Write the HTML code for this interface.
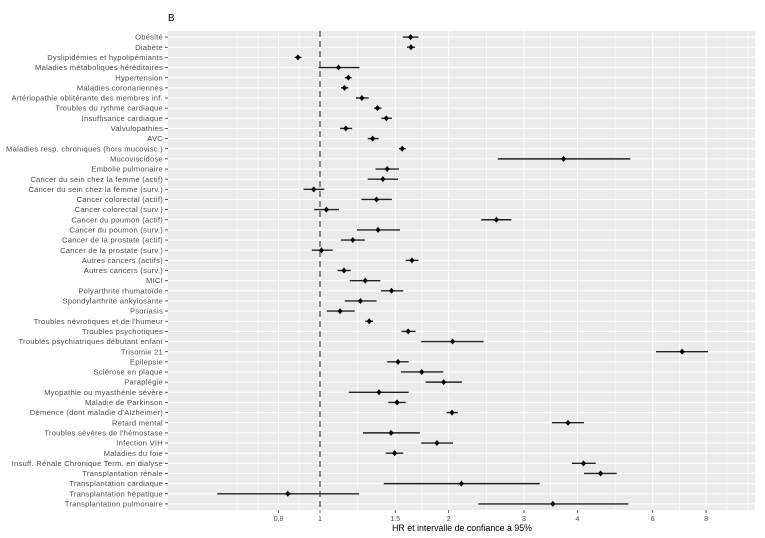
<!DOCTYPE html>
<html><head><meta charset="utf-8"><style>
body{margin:0;background:#fff;}
svg{display:block;font-family:"Liberation Sans",sans-serif;}
</style></head><body>
<svg id="chart" width="765" height="538" viewBox="0 0 765 538" xmlns="http://www.w3.org/2000/svg">
<text x="168" y="21" font-size="10" fill="#000">B</text>
<rect x="168" y="31" width="587" height="479" fill="#EBEBEB"/>
<g id="grid"></g><g id="marks"></g><g id="axes"></g>
<text x="462" y="531" font-size="8.8" fill="#000" text-anchor="middle">HR et intervalle de confiance à 95%</text>
</svg>
<script>
const categories = ["Obésité","Diabète","Dyslipidémies et hypolipémiants","Maladies métaboliques héréditaires","Hypertension","Maladies coronariennes","Artériopathie oblitérante des membres inf.","Troubles du rythme cardiaque","Insuffisance cardiaque","Valvulopathies","AVC","Maladies resp. chroniques (hors mucovisc.)","Mucoviscidose","Embolie pulmonaire","Cancer du sein chez la femme (actif)","Cancer du sein chez la femme (surv.)","Cancer colorectal (actif)","Cancer colorectal (surv.)","Cancer du poumon (actif)","Cancer du poumon (surv.)","Cancer de la prostate (actif)","Cancer de la prostate (surv.)","Autres cancers (actifs)","Autres cancers (surv.)","MICI","Polyarthrite rhumatoïde","Spondylarthrite ankylosante","Psoriasis","Troubles névrotiques et de l'humeur","Troubles psychotiques","Troubles psychiatriques débutant enfant","Trisomie 21","Epilepsie","Sclérose en plaque","Paraplégie","Myopathie ou myasthénie sévère","Maladie de Parkinson","Démence (dont maladie d'Alzheimer)","Retard mental","Troubles sévères de l'hémostase","Infection VIH","Maladies du foie","Insuff. Rénale Chronique Term. en dialyse","Transplantation rénale","Transplantation cardiaque","Transplantation hépatique","Transplantation pulmonaire"];
const hr = [1.629,1.632,0.888,1.105,1.165,1.141,1.253,1.363,1.429,1.149,1.328,1.557,3.714,1.436,1.403,0.967,1.356,1.035,2.585,1.367,1.193,1.008,1.641,1.138,1.276,1.470,1.243,1.114,1.303,1.608,2.042,7.03,1.522,1.730,1.947,1.374,1.514,2.036,3.803,1.466,1.877,1.495,4.133,4.532,2.141,0.841,3.504];
const lower = [1.562,1.598,0.872,0.992,1.143,1.120,1.214,1.338,1.392,1.114,1.293,1.530,2.605,1.348,1.293,0.915,1.250,0.969,2.383,1.220,1.120,0.957,1.587,1.100,1.174,1.388,1.143,1.037,1.276,1.550,1.725,6.11,1.436,1.546,1.767,1.168,1.444,1.978,3.487,1.260,1.725,1.425,3.882,4.144,1.410,0.575,2.346];
const upper = [1.699,1.668,0.905,1.237,1.186,1.165,1.300,1.392,1.473,1.189,1.371,1.587,5.318,1.530,1.522,1.024,1.473,1.108,2.803,1.539,1.273,1.071,1.699,1.180,1.384,1.566,1.356,1.205,1.331,1.673,2.415,8.08,1.612,1.943,2.147,1.612,1.587,2.101,4.144,1.712,2.047,1.566,4.414,4.942,3.265,1.234,5.260];
const tickValues = [0.8,1,1.5,2,3,4,6,8];
const tickLabels = ["0.8","1","1.5","2","3","4","6","8"];
const minorValues = [0.64,0.716,0.894,1.225,1.732,2.449,3.464,4.899,6.928,8.95,10.03];

const NS="http://www.w3.org/2000/svg";
const PX_PER_DOUBLING=128.7, X_ONE=320, TOP=31, BOTTOM=510;
function xScale(v){return X_ONE+PX_PER_DOUBLING*Math.log2(v);}
const step=(BOTTOM-TOP)/(categories.length-1+1.2);
function yScale(i){return TOP+0.6*step+i*step;}
function mk(tag,attrs,parent){const e=document.createElementNS(NS,tag);for(const k in attrs)e.setAttribute(k,attrs[k]);parent.appendChild(e);return e;}
const grid=document.getElementById('grid'),marks=document.getElementById('marks'),axes=document.getElementById('axes');

minorValues.forEach(v=>{const x=xScale(v);
 const l=mk('line',{x1:x,x2:x,y1:TOP,y2:BOTTOM,stroke:'#fff','stroke-width':0.6},grid);
 
 });
tickValues.forEach((v,i)=>{const x=xScale(v);
 const l=mk('line',{x1:x,x2:x,y1:TOP,y2:BOTTOM,stroke:'#fff','stroke-width':1.1},grid);
 
 
 const t=mk('line',{x1:x,x2:x,y1:BOTTOM,y2:BOTTOM+3,stroke:'#333','stroke-width':0.8},axes);
 
 
 const tx=mk('text',{x:x,y:BOTTOM+11,'font-size':7,fill:'#4d4d4d','text-anchor':'middle'},axes);
 tx.textContent=tickLabels[i];
 
 });
categories.forEach((c,i)=>{const y=yScale(i);
 const l=mk('line',{x1:168,x2:755,y1:y,y2:y,stroke:'#fff','stroke-width':1.1},grid);
 
 
 const t=mk('line',{x1:165,x2:168,y1:y,y2:y,stroke:'#333','stroke-width':0.8},axes);
 
 
 const tx=mk('text',{x:163,y:y+2.6,'font-size':7.6,'letter-spacing':0.25,fill:'#4d4d4d','text-anchor':'end'},axes);
 tx.textContent=c;
 
 });
const ref=mk('line',{x1:xScale(1),x2:xScale(1),y1:TOP,y2:BOTTOM,stroke:'#444','stroke-width':1.2,'stroke-dasharray':'6,4'},marks);


categories.forEach((c,i)=>{const y=yScale(i);
 const ci=mk('line',{x1:xScale(lower[i]),x2:xScale(upper[i]),y1:y,y2:y,stroke:'#222','stroke-width':1.4},marks);
 
 
 const x=xScale(hr[i]);
 const p=mk('path',{d:`M${x},${y-3}L${x+2.6},${y}L${x},${y+3}L${x-2.6},${y}Z`,fill:'#000'},marks);
 
 });
</script>
</body></html>
